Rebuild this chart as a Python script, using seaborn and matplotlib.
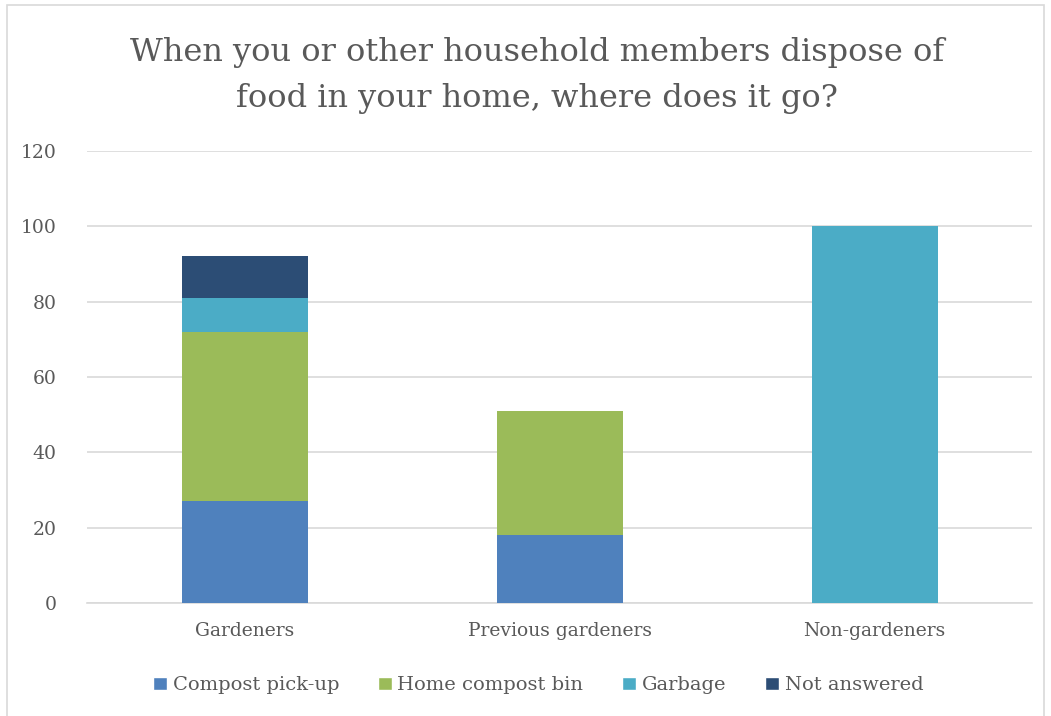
import numpy as np
import pandas as pd
import matplotlib.pyplot as plt
import seaborn as sns
from matplotlib.patches import Patch, Rectangle

categories = ["Gardeners", "Previous gardeners", "Non-gardeners"]
series = ["Compost pick-up", "Home compost bin", "Garbage", "Not answered"]
compost_pickup = [27, 18, 0]
home_compost = [45, 33, 0]
garbage = [9, 0, 100]
not_answered = [11, 0, 0]
colors = ["#4F81BD", "#9BBB59", "#4BACC6", "#2C4D75"]

values = np.array([compost_pickup, home_compost, garbage, not_answered])
tops = values.cumsum(axis=0)

sns.set_style("white")
plt.rcParams["font.family"] = ["DejaVu Serif"]
text_col = "#595959"

fig = plt.figure(figsize=(10.51, 7.16), dpi=100)
ax = fig.add_axes([87 / 1051, 1 - 603 / 716, 945 / 1051, 452 / 716])

# draw cumulative totals from the top series down so lower ones cover them
for i in range(len(series) - 1, -1, -1):
    df = pd.DataFrame({"cat": categories, "val": tops[i]})
    sns.barplot(data=df, x="cat", y="val", color=colors[i], width=0.4,
                saturation=1, linewidth=0, ax=ax, zorder=3)

ax.set_xlim(-0.5, 2.5)
ax.set_ylim(0, 120)
ax.set_yticks(range(0, 121, 20))
ax.yaxis.grid(True, color="#D9D9D9", linewidth=1.2, zorder=0)
ax.set_axisbelow(True)
for s in ["top", "right", "left"]:
    ax.spines[s].set_visible(False)
ax.spines["bottom"].set_color("#D9D9D9")
ax.spines["bottom"].set_linewidth(1.2)
ax.tick_params(axis="both", length=0, colors=text_col, labelsize=13.5)
ax.tick_params(axis="y", pad=22)
ax.tick_params(axis="x", pad=14)
ax.set_xlabel("")
ax.set_ylabel("")

fig.text(0.511, 0.894, "When you or other household members dispose of\nfood in your home, where does it go?",
         ha="center", va="center", fontsize=23, color=text_col, linespacing=1.62)

handles = [Patch(facecolor=c, label=s) for c, s in zip(colors, series)]
fig.legend(handles=handles, loc="center", bbox_to_anchor=(0.512, 0.043), ncol=4,
           frameon=False, fontsize=14, handlelength=0.7, handleheight=0.7,
           handletextpad=0.3, columnspacing=2.0, labelcolor=text_col)

fig.patches.append(Rectangle((7 / 1051, -0.01), 1037 / 1051, 1 - 5 / 716 + 0.01,
                             transform=fig.transFigure, fill=False,
                             edgecolor="#D9D9D9", linewidth=1.2))

fig.savefig("out.png", dpi=100)
